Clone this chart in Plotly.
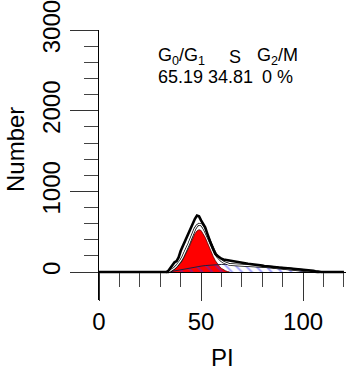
import plotly.graph_objects as go

# ---- data ----
channels = list(range(0, 121))
hist_counts = (
    [0] * 33 +
    [0, 15, 50, 95, 120, 135, 180, 260, 320, 380,      # 33-42
     430, 480, 540, 600, 660, 700, 690, 640, 590, 555,  # 43-52
     480, 400, 340, 280, 225, 200, 180, 165, 155, 150,  # 53-62
     145, 142, 136, 132, 130, 126, 120, 116, 110, 108,  # 63-72
     103, 100, 95, 93, 88, 84, 80, 79, 75, 74,          # 73-82
     70, 67, 66, 62, 60, 57, 56, 53, 50, 48,            # 83-92
     45, 43, 40, 38, 36, 33, 30, 28, 25, 22,            # 93-102
     20, 18, 14, 8, 3, 0] +                             # 103-108
    [0] * 12
)
g1_channels = list(range(34, 65))
g1_counts = [0, 10, 20, 35, 55, 80, 110, 150, 195, 245, 300, 360, 420, 475, 510,
             525, 515, 480, 430, 370, 305, 245, 190, 140, 100, 70, 45, 28, 15, 6, 0]
s_channels = list(range(34, 108, 2))
s_counts = [0, 10, 20, 30, 40, 50, 58, 66, 73, 80, 85, 89, 92, 94, 94, 93, 91, 89,
            86, 83, 80, 77, 73, 69, 66, 62, 58, 54, 50, 45, 40, 34, 28, 20, 12, 4, 0]
y_major_ticks = [0, 1000, 2000, 3000]
y_minor_ticks = [200, 400, 600, 800, 1200, 1400, 1600, 1800, 2200, 2400, 2600, 2800]
x_major_ticks = [0, 50, 100]
x_minor_ticks = [10, 20, 30, 40, 60, 70, 80, 90, 110, 120]
phase_names = ["G<sub>0</sub>/G<sub>1</sub>", "S", "G<sub>2</sub>/M"]
phase_values = ["65.19", "34.81", "0 %"]

# fit = G1 + S (on integer channels)
s_map = {}
for i in range(len(s_channels) - 1):
    c0, c1 = s_channels[i], s_channels[i + 1]
    v0, v1 = s_counts[i], s_counts[i + 1]
    s_map[c0] = v0
    s_map[c0 + 1] = (v0 + v1) / 2
s_map[s_channels[-1]] = s_counts[-1]
g1_map = dict(zip(g1_channels, g1_counts))
fit_ch = list(range(33, 109))
fit_counts = [g1_map.get(c, 0) + s_map.get(c, 0) for c in fit_ch]

FONT = "Liberation Sans, Arial, sans-serif"
fig = go.Figure()

# G0/G1 peak (red)
fig.add_trace(go.Scatter(x=g1_channels, y=g1_counts, mode="lines",
                         line=dict(color="#5a0000", width=0.8),
                         fill="tozeroy", fillcolor="#ff0000"))
# S phase (hatched)
fig.add_trace(go.Scatter(x=s_channels, y=s_counts, mode="lines",
                         line=dict(color="#202040", width=1),
                         fill="tozeroy", fillcolor="rgba(0,0,0,0)",
                         fillpattern=dict(shape="\\", fgcolor="#3030ff",
                                          bgcolor="rgba(0,0,0,0)",
                                          size=7, solidity=0.25)))
# model fit (white core with dark outline)
fig.add_trace(go.Scatter(x=fit_ch, y=fit_counts, mode="lines",
                         line=dict(color="black", width=2.6)))
fig.add_trace(go.Scatter(x=fit_ch, y=fit_counts, mode="lines",
                         line=dict(color="white", width=1.2)))
# histogram
fig.add_trace(go.Scatter(x=channels, y=hist_counts, mode="lines",
                         line=dict(color="black", width=2.6)))

tickfont = dict(family=FONT, size=24, color="black")
fig.update_xaxes(range=[0, 121], showline=True, linecolor="black", linewidth=1,
                 anchor="free", position=(300 - 272) / 270, automargin=False,
                 tickmode="array", tickvals=x_major_ticks, ticklabeloverflow="allow",
                 ticks="outside", ticklen=28, tickcolor="#333", tickwidth=1,
                 minor=dict(tickmode="array", tickvals=x_minor_ticks, ticks="outside",
                            ticklen=14, tickcolor="#444", tickwidth=1),
                 showgrid=False, zeroline=False, tickfont=tickfont)
fig.update_yaxes(range=[-347, 3002], showline=True, linecolor="black", linewidth=1,
                 automargin=False, ticklabeloverflow="allow",
                 tickmode="array", tickvals=y_major_ticks, tickangle=-90,
                 ticks="outside", ticklen=28, tickcolor="#333", tickwidth=1,
                 minor=dict(tickmode="array", tickvals=y_minor_ticks, ticks="outside",
                            ticklen=14, tickcolor="#444", tickwidth=1),
                 showgrid=False, zeroline=False, tickfont=tickfont)

W, H = 346, 371
L, R, T, B = 99, 0, 30, 71
pw, ph = W - L - R, H - T - B

def px_x(px):
    return (px - L) / pw

def px_y(py):
    return (H - B - py) / ph

annots = []
name_x = [181, 235, 277]
val_x = [180, 230, 277]
for nm, vx in zip(phase_names, name_x):
    annots.append(dict(text=nm, x=px_x(vx), y=px_y(57), xref="paper", yref="paper",
                       xanchor="center", yanchor="middle", showarrow=False,
                       font=dict(family=FONT, size=18, color="black")))
for vl, vx in zip(phase_values, val_x):
    annots.append(dict(text=vl, x=px_x(vx), y=px_y(77), xref="paper", yref="paper",
                       xanchor="center", yanchor="middle", showarrow=False,
                       font=dict(family=FONT, size=18, color="black")))
annots.append(dict(text="Number", x=px_x(15), y=px_y(150), xref="paper", yref="paper",
                   xanchor="center", yanchor="middle", showarrow=False, textangle=-90,
                   font=dict(family=FONT, size=24, color="black")))
annots.append(dict(text="PI", x=px_x(222), y=px_y(357), xref="paper", yref="paper",
                   xanchor="center", yanchor="middle", showarrow=False,
                   font=dict(family=FONT, size=24, color="black")))

fig.update_layout(width=W, height=H, margin=dict(l=L, r=R, t=T, b=B, autoexpand=False),
                  plot_bgcolor="white", paper_bgcolor="white",
                  showlegend=False, annotations=annots)

fig.write_html("out.html", config={"displayModeBar": False},
               post_script="document.body.style.margin='0';document.body.style.overflow='hidden';")
